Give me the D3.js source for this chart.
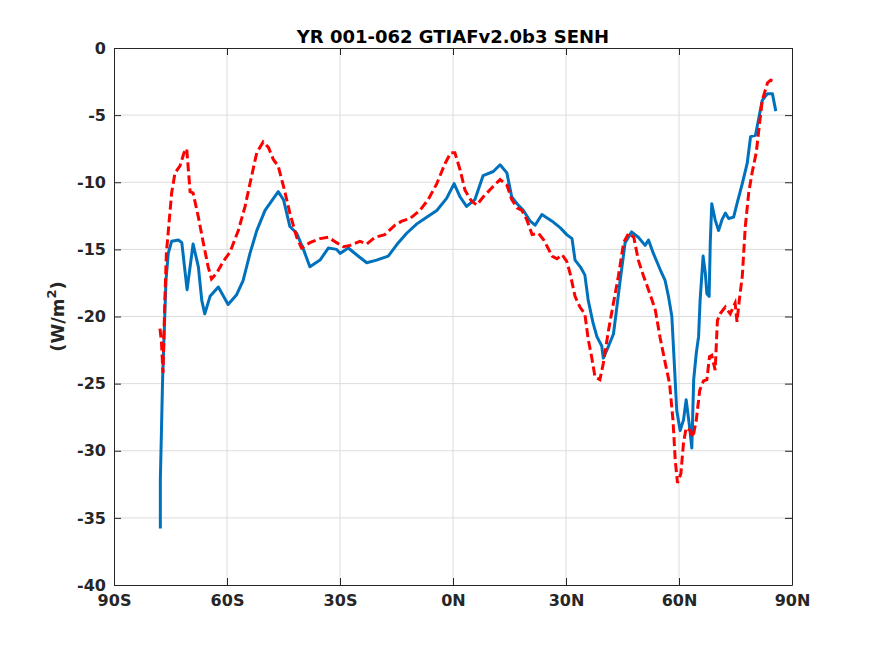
<!DOCTYPE html>
<html><head><meta charset="utf-8">
<script src="https://cdn.jsdelivr.net/npm/d3@7"></script>
<style>body{margin:0;background:#fff}svg{display:block}</style>
</head><body>
<svg id="c" width="875" height="656"></svg>
<script>
const title = "YR 001-062 GTIAFv2.0b3 SENH";
const xTicks = [-90,-60,-30,0,30,60,90];
const xTickLabels = ["90S","60S","30S","0N","30N","60N","90N"];
const yTicks = [0,-5,-10,-15,-20,-25,-30,-35,-40];

const blueLat = [-77.7,-77.7,-77.4,-77.1,-76.8,-76.5,-76.2,-75.6,-74.7,-72.9,-72.0,-70.6,-69.0,-67.6,-66.7,-65.9,-64.5,-62.3,-59.7,-57.5,-55.7,-53.9,-52.1,-49.9,-46.4,-45.0,-43.3,-41.5,-39.7,-38.0,-35.3,-33.1,-30.9,-30.0,-27.8,-25.6,-22.9,-20.3,-17.2,-14.5,-12.3,-9.6,-7.0,-4.3,-1.7,0.3,1.9,3.6,5.8,8.0,10.7,12.5,14.3,15.6,17.0,18.7,20.5,21.8,23.6,26.3,28.5,30.2,31.6,32.4,33.8,35.0,35.9,37.2,38.2,39.5,39.9,41.3,42.6,43.5,44.3,45.7,47.4,49.2,51.0,51.9,53.2,55.0,56.3,57.2,58.1,58.7,59.4,60.3,61.2,61.9,62.8,63.4,63.9,64.6,65.2,65.6,66.4,67.0,67.4,68.0,68.3,68.7,69.6,70.5,71.4,72.3,73.2,74.5,75.4,76.8,78.1,79.0,80.3,81.2,82.1,83.5,84.8,85.7];
const blueVal = [-35.8,-32.2,-28.5,-24.7,-22.2,-19.8,-17.3,-15.3,-14.4,-14.3,-14.5,-18.0,-14.6,-16.3,-18.8,-19.8,-18.5,-17.8,-19.1,-18.4,-17.3,-15.3,-13.6,-12.1,-10.7,-11.3,-13.3,-13.8,-15.0,-16.3,-15.8,-14.9,-15.0,-15.3,-14.9,-15.4,-16.0,-15.8,-15.5,-14.5,-13.8,-13.1,-12.6,-12.1,-11.2,-10.1,-11.1,-11.8,-11.3,-9.5,-9.2,-8.7,-9.3,-11.1,-11.6,-12.1,-12.9,-13.2,-12.4,-12.9,-13.4,-13.9,-14.2,-15.8,-16.3,-16.9,-18.8,-20.5,-21.5,-22.2,-23.1,-22.2,-21.3,-19.3,-17.5,-14.5,-13.7,-14.1,-14.7,-14.3,-15.3,-16.5,-17.3,-18.5,-20.0,-23.2,-27.0,-28.5,-27.7,-26.2,-28.2,-29.8,-24.7,-22.7,-21.5,-18.8,-15.5,-16.8,-18.3,-18.5,-14.5,-11.6,-12.8,-13.6,-12.8,-12.3,-12.7,-12.6,-11.6,-10.1,-8.6,-6.6,-6.5,-5.2,-3.9,-3.4,-3.4,-4.7];

const redLat = [-77.8,-77.4,-77.0,-76.5,-76.1,-74.7,-73.8,-72.5,-71.4,-70.7,-69.8,-69.0,-67.6,-66.3,-65.0,-64.1,-62.8,-61.0,-59.2,-57.0,-55.2,-53.9,-52.1,-50.4,-49.0,-47.7,-46.4,-45.0,-43.3,-41.5,-40.2,-38.0,-35.3,-33.1,-30.9,-29.1,-27.3,-24.7,-22.9,-20.7,-18.1,-15.4,-13.6,-11.4,-8.8,-6.6,-4.3,-2.1,-0.6,0.5,1.9,3.2,4.9,6.3,8.0,10.7,12.5,14.3,15.6,17.0,18.3,19.6,21.0,22.7,24.1,25.4,26.3,27.6,29.0,30.2,31.1,32.4,33.7,35.0,35.9,36.8,37.7,39.0,39.9,41.3,42.6,43.9,45.3,46.6,48.0,49.2,50.6,51.9,53.7,55.0,56.3,57.5,58.4,59.0,59.6,60.5,61.2,61.9,63.0,63.7,64.6,65.5,66.5,67.4,68.1,68.7,69.6,70.2,70.9,72.3,73.6,74.9,75.4,76.0,76.8,77.6,78.5,79.4,80.5,81.4,82.1,83.5,84.3,85.3];
const redVal = [-20.9,-21.9,-24.2,-18.8,-15.3,-10.8,-9.3,-8.8,-7.8,-7.5,-10.7,-10.8,-12.6,-14.5,-16.3,-17.2,-16.8,-15.9,-15.2,-13.6,-11.8,-10.1,-7.8,-7.0,-7.4,-8.3,-8.8,-10.3,-12.3,-14.1,-14.9,-14.5,-14.2,-14.1,-14.5,-14.8,-14.7,-14.4,-14.6,-14.1,-13.9,-13.2,-12.9,-12.7,-12.1,-11.3,-10.1,-8.6,-7.8,-7.8,-9.1,-10.6,-11.4,-11.7,-11.1,-10.3,-9.8,-10.2,-11.3,-11.9,-12.1,-12.8,-13.9,-13.8,-14.3,-15.0,-15.5,-15.7,-15.4,-15.9,-16.8,-18.5,-19.3,-19.8,-21.7,-23.0,-24.5,-24.7,-23.5,-21.0,-19.0,-17.0,-14.5,-13.8,-14.1,-15.8,-17.0,-18.0,-19.5,-21.6,-23.4,-25.0,-27.7,-30.7,-32.4,-31.7,-29.4,-28.3,-28.5,-29.0,-27.7,-25.5,-24.8,-24.7,-23.0,-22.9,-24.0,-20.3,-19.8,-19.3,-19.8,-19.0,-20.4,-18.8,-17.0,-13.3,-10.8,-9.3,-7.8,-5.6,-3.9,-2.6,-2.4,-2.5];

const svg = d3.select("#c");
const L=114, R=792, T=48, B=585;
const x = d3.scaleLinear().domain([-90,90]).range([L,R]);
const y = d3.scaleLinear().domain([-40,0]).range([B,T]);
const font = "'DejaVu Sans', sans-serif";

// grid
const g = svg.append("g");
g.selectAll(".gx").data(xTicks.slice(1,-1)).enter().append("line")
 .attr("x1",d=>x(d)).attr("x2",d=>x(d)).attr("y1",T).attr("y2",B)
 .attr("stroke","#dcdcdc").attr("stroke-width",1);
g.selectAll(".gy").data(yTicks.slice(1,-1)).enter().append("line")
 .attr("y1",d=>y(d)).attr("y2",d=>y(d)).attr("x1",L).attr("x2",R)
 .attr("stroke","#dcdcdc").attr("stroke-width",1);

// axes
const ax = d3.axisBottom(x).tickValues(xTicks).tickSizeInner(-7).tickSizeOuter(0).tickPadding(10)
  .tickFormat((d,i)=>xTickLabels[i]);
const axT = d3.axisTop(x).tickValues(xTicks).tickSizeInner(-7).tickSizeOuter(0).tickFormat("");
const ay = d3.axisLeft(y).tickValues(yTicks).tickSizeInner(-7).tickSizeOuter(0).tickPadding(8)
  .tickFormat(d=>d===0?"0":String(d));
const ayR = d3.axisRight(y).tickValues(yTicks).tickSizeInner(-7).tickSizeOuter(0).tickFormat("");

function style(sel){
  sel.selectAll("path").attr("stroke","#262626").attr("stroke-width",1);
  sel.selectAll("line").attr("stroke","#262626").attr("stroke-width",1);
  sel.selectAll("text").attr("fill","#262626").style("font-family",font)
    .style("font-size","16px").style("font-weight","bold");
}

// lines
const line = d3.line().x(d=>x(d[0])).y(d=>y(d[1]));
svg.append("path").datum(blueLat.map((v,i)=>[v,blueVal[i]]))
  .attr("d",line).attr("fill","none").attr("stroke","#0072BD").attr("stroke-width",3)
  .attr("stroke-linejoin","round");
svg.append("path").datum(redLat.map((v,i)=>[v,redVal[i]]))
  .attr("d",line).attr("fill","none").attr("stroke","#FF0000").attr("stroke-width",3)
  .attr("stroke-dasharray","9,4");

style(svg.append("g").attr("transform",`translate(0,${B})`).call(ax));
style(svg.append("g").attr("transform",`translate(0,${T})`).call(axT));
style(svg.append("g").attr("transform",`translate(${L},0)`).call(ay));
style(svg.append("g").attr("transform",`translate(${R},0)`).call(ayR));
svg.selectAll(".domain").attr("stroke","#262626");

// title
svg.append("text").attr("x",(L+R)/2).attr("y",43).attr("text-anchor","middle")
  .style("font-family",font).style("font-size","18px").style("font-weight","bold")
  .attr("fill","#000").text(title);

// y label
const yl = svg.append("text").attr("transform",`translate(64,${(T+B)/2}) rotate(-90)`)
  .attr("text-anchor","middle").style("font-family",font).style("font-size","18px")
  .style("font-weight","bold").attr("fill","#262626");
yl.append("tspan").text("(W/m");
yl.append("tspan").attr("dy",-8).style("font-size","13px").text("2");
yl.append("tspan").attr("dy",8).text(")");
</script>
</body></html>
